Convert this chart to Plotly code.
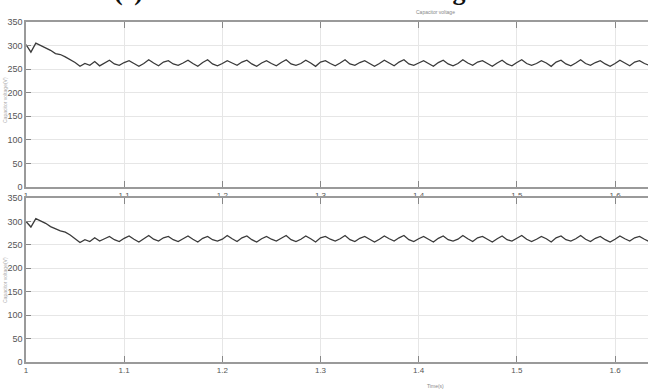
import numpy as np
import plotly.graph_objects as go
from plotly.subplots import make_subplots

# time axis (s)
t_start = 1.0
t_step = 0.005

# capacitor voltage (V), upper panel
v_top = [302, 286, 305, 300, 294, 290, 283, 281, 276, 270, 264, 256, 262, 258, 266,
         257, 263, 269, 261, 258, 264, 268, 262, 256, 262, 270, 263, 257, 265, 268, 261,
         258, 263, 269, 262, 256, 264, 270, 261, 257, 262, 268, 263, 258, 265, 269, 261,
         256, 263, 268, 262, 257, 264, 270, 261, 258, 262, 269, 263, 256, 265, 268, 262,
         257, 263, 270, 261, 258, 264, 268, 262, 256, 262, 269, 263, 257, 265, 270, 261,
         258, 263, 268, 262, 256, 264, 269, 261, 257, 262, 270, 263, 258, 265, 268, 262,
         256, 263, 269, 261, 257, 264, 270, 262, 258, 262, 268, 263, 256, 265, 269, 261,
         257, 263, 270, 262, 258, 264, 268, 261, 256, 262, 269, 263, 257, 265, 268, 262,
         258]

# capacitor voltage (V), lower panel
v_bot = [300, 288, 306, 301, 296, 289, 284, 280, 277, 271, 263, 255, 261, 257, 265,
         258, 263, 268, 261, 257, 264, 269, 262, 256, 263, 270, 262, 258, 265, 268, 261,
         257, 263, 269, 262, 256, 264, 268, 261, 258, 262, 270, 263, 257, 265, 269, 261,
         256, 263, 268, 262, 258, 264, 270, 261, 257, 262, 269, 263, 256, 265, 268, 262,
         258, 263, 270, 261, 257, 264, 268, 262, 256, 262, 269, 263, 258, 265, 270, 261,
         257, 263, 268, 262, 256, 264, 269, 261, 258, 262, 270, 263, 257, 265, 268, 262,
         256, 263, 269, 261, 258, 264, 270, 262, 257, 262, 268, 263, 256, 265, 269, 261,
         258, 263, 270, 262, 257, 264, 268, 261, 256, 262, 269, 263, 258, 265, 268, 262,
         257]

t_top = [round(t_start + i * t_step, 4) for i in range(len(v_top))]
t_bot = [round(t_start + i * t_step, 4) for i in range(len(v_bot))]

y_ticks = [0, 50, 100, 150, 200, 250, 300, 350]
x_ticks = [1, 1.1, 1.2, 1.3, 1.4, 1.5, 1.6]
x_labels = ["1", "1.1", "1.2", "1.3", "1.4", "1.5", "1.6"]

W, H = 648, 390
L = 26
fig = make_subplots(rows=2, cols=1)

line = dict(color="#3a3a3a", width=1.3)
fig.add_trace(go.Scatter(x=t_top, y=v_top, mode="lines", line=line, showlegend=False), row=1, col=1)
fig.add_trace(go.Scatter(x=t_bot, y=v_bot, mode="lines", line=line, showlegend=False), row=2, col=1)

def py(p):
    return 1 - p / H

def px(p):
    return (p - L) / (W - L)

yfont = dict(family="Liberation Sans, Arial, sans-serif", size=9, color="#555")
xfont = dict(family="Liberation Sans, Arial, sans-serif", size=8, color="#555")
for r, dom in [(1, [py(187), py(22)]), (2, [py(362), py(198)])]:
    fig.update_xaxes(row=r, col=1, domain=[0, 1], range=[1, 1.6336], tickvals=x_ticks, ticktext=x_labels,
                     showgrid=True, gridcolor="#e6e6e6", gridwidth=1, automargin=False,
                     showline=True, linecolor="#9a9a9a", linewidth=1.5, mirror="ticks",
                     ticks="inside", ticklen=6, tickcolor="#888", tickfont=xfont,
                     zeroline=False)
    fig.update_yaxes(row=r, col=1, domain=dom, range=[0, 350], tickvals=y_ticks,
                     showgrid=True, gridcolor="#e6e6e6", gridwidth=1, automargin=False,
                     showline=True, linecolor="#9a9a9a", linewidth=1.5,
                     ticks="inside", ticklen=5, tickcolor="#888", tickfont=yfont,
                     zeroline=False)

fig.update_layout(
    template="none",
    width=W, height=H,
    margin=dict(l=L, r=0, t=0, b=0, autoexpand=False),
    paper_bgcolor="white", plot_bgcolor="white",
    annotations=[
        dict(text="<b>(c) The measured dc-link voltage</b>", x=px(295), y=py(8),
             xref="paper", yref="paper", xanchor="center", yanchor="bottom",
             showarrow=False, font=dict(family="Liberation Serif, Times New Roman, serif",
                                        size=26, color="#111")),
        dict(text="Capacitor voltage", x=px(435), y=py(12),
             xref="paper", yref="paper", xanchor="center", yanchor="middle",
             showarrow=False, font=dict(family="Liberation Sans, Arial", size=5, color="#888")),
        dict(text="Time(s)", x=px(435), y=py(386),
             xref="paper", yref="paper", xanchor="center", yanchor="middle",
             showarrow=False, font=dict(family="Liberation Sans, Arial", size=5, color="#888")),
        dict(text="Capacitor voltage(V)", x=px(5), y=py(100),
             xref="paper", yref="paper", xanchor="center", yanchor="middle", textangle=-90,
             showarrow=False, font=dict(family="Liberation Sans, Arial", size=5, color="#aaa")),
        dict(text="Capacitor voltage(V)", x=px(5), y=py(280),
             xref="paper", yref="paper", xanchor="center", yanchor="middle", textangle=-90,
             showarrow=False, font=dict(family="Liberation Sans, Arial", size=5, color="#aaa")),
    ],
)

fig.write_html("out.html", config={"displayModeBar": False},
               post_script="document.body.style.margin='0';document.body.style.overflow='hidden';")
